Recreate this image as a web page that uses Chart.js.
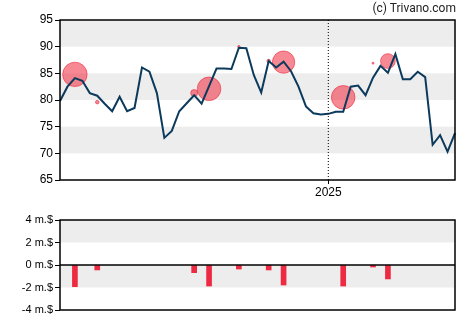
<!DOCTYPE html>
<html>
<head>
<meta charset="utf-8">
<script src="https://cdn.jsdelivr.net/npm/chart.js@4"></script>
<style>
    body { margin: 0; background: #fff; }
    #wrap { position: relative; width: 470px; height: 325px; font-family: "Liberation Sans", Arial, sans-serif; }
    #price-box { position: absolute; left: 0; top: 0; width: 470px; height: 200px; }
    #trade-box { position: absolute; left: 0; top: 200px; width: 470px; height: 125px; }
    #credit { position: absolute; right: 14px; top: 1px; font-size: 12px; color: #222; font-family: Roboto, sans-serif; }
</style>
</head>
<body>
<div id="wrap">
    <div id="price-box"><canvas id="price-chart"></canvas></div>
    <div id="trade-box"><canvas id="trade-chart"></canvas></div>
    <div id="credit">(c) Trivano.com</div>
</div>
<script>
// weekly closing prices
const closes = [
    79.8, 82.5, 84.1, 83.6, 81.3, 80.8, 79.3, 77.9, 80.6, 77.9,
    78.5, 86.1, 85.3, 81.3, 72.9, 74.2, 77.9, 79.4, 80.9, 79.3,
    82.6, 85.9, 85.9, 85.8, 89.8, 89.7, 84.7, 81.4, 87.3, 86.1,
    87.2, 85.4, 82.5, 78.8, 77.5, 77.3, 77.4, 77.8, 77.8, 82.5,
    82.7, 80.9, 84.2, 86.4, 85.1, 88.6, 83.9, 83.9, 85.3, 84.3,
    71.6, 73.4, 70.3, 73.8
];

// insider trades: week index, price paid, amount in million $
const tradeWeeks = [2, 5, 18, 20, 24, 28, 30, 38, 42, 44];
const tradePrices = [84.8, 79.6, 81.3, 82.1, 90.0, 87.3, 87.1, 80.5, 86.9, 87.3];
const tradeAmounts = [-1.93, -0.44, -0.68, -1.87, -0.36, -0.44, -1.78, -1.87, -0.18, -1.24];

const yearWeek = 36;
const yearLabel = '2025';
const priceTicks = { min: 65, max: 95, step: 5 };
const tradeTicks = { min: -4, max: 4, step: 2 };

const weeks = [];
const start = new Date(Date.UTC(2024, 3, 26));
for (let i = 0; i < closes.length; i++) {
    const d = new Date(start.getTime() + i * 7 * 86400000);
    weeks.push(d.toISOString().slice(0, 10));
}

const tradeBars = weeks.map(() => null);
tradeWeeks.forEach((w, i) => { tradeBars[w] = tradeAmounts[i]; });

const bands = {
    id: 'bands',
    beforeDatasetsDraw(chart, args, opts) {
        const { ctx, chartArea } = chart;
        const y = chart.scales.y;
        ctx.save();
        ctx.fillStyle = '#ededed';
        opts.ranges.forEach(([a, b]) => {
            const top = y.getPixelForValue(b);
            const bottom = y.getPixelForValue(a);
            ctx.fillRect(chartArea.left, top, chartArea.right - chartArea.left, bottom - top);
        });
        ctx.restore();
    }
};

const frame = {
    id: 'frame',
    afterDatasetsDraw(chart, args, opts) {
        const { ctx, chartArea } = chart;
        ctx.save();
        ctx.strokeStyle = '#000';
        ctx.lineWidth = 1.5;
        if (opts.yearLine) {
            const x = chart.scales.x.getPixelForValue(yearWeek);
            ctx.setLineDash([1, 2]);
            ctx.lineWidth = 1;
            ctx.beginPath();
            ctx.moveTo(x, chartArea.top);
            ctx.lineTo(x, chartArea.bottom);
            ctx.stroke();
            ctx.setLineDash([]);
            ctx.lineWidth = 1.5;
        }
        if (opts.zeroLine) {
            const y0 = chart.scales.y.getPixelForValue(0);
            ctx.beginPath();
            ctx.moveTo(chartArea.left, y0);
            ctx.lineTo(chartArea.right, y0);
            ctx.stroke();
        }
        ctx.strokeRect(chartArea.left, chartArea.top, chartArea.right - chartArea.left, chartArea.bottom - chartArea.top);
        ctx.restore();
    }
};

const tickFont = { family: '"Liberation Sans", Arial, sans-serif', size: 12 };

new Chart(document.getElementById('price-chart'), {
    type: 'line',
    data: {
        labels: weeks,
        datasets: [{
            type: 'line',
            data: closes,
            borderColor: '#0c3a5c',
            borderWidth: 2,
            pointRadius: 0,
            tension: 0,
            order: 1
        }, {
            type: 'bubble',
            data: tradeWeeks.map((w, i) => ({
                x: weeks[w],
                y: tradePrices[i],
                r: Math.max(1, 7 * Math.abs(tradeAmounts[i]) - 1.3)
            })),
            backgroundColor: 'rgba(238, 40, 60, 0.55)',
            borderColor: 'rgba(238, 40, 60, 0.6)',
            borderWidth: 1,
            order: 2
        }]
    },
    options: {
        responsive: true,
        maintainAspectRatio: false,
        animation: false,
        layout: { padding: { top: 20, right: 15, left: 0, bottom: 0 } },
        scales: {
            x: {
                type: 'category',
                offset: false,
                afterFit(scale) { scale.height = 20; },
                border: { display: false },
                grid: { drawOnChartArea: false, drawTicks: true, tickLength: 4, color: '#000' },
                ticks: {
                    autoSkip: false,
                    maxRotation: 0,
                    padding: 1,
                    color: '#000',
                    font: tickFont,
                    callback: (v, i) => i === yearWeek ? yearLabel : null
                }
            },
            y: {
                min: priceTicks.min,
                max: priceTicks.max,
                afterFit(scale) { scale.width = 60; },
                border: { display: false },
                grid: { drawOnChartArea: false, drawTicks: true, tickLength: 5, color: '#000' },
                ticks: { stepSize: priceTicks.step, padding: 2, color: '#000', font: tickFont }
            }
        },
        plugins: {
            legend: { display: false },
            tooltip: { enabled: false },
            bands: { ranges: [[70, 75], [80, 85], [90, 95]] },
            frame: { yearLine: true }
        }
    },
    plugins: [bands, frame]
});

new Chart(document.getElementById('trade-chart'), {
    type: 'bar',
    data: {
        labels: weeks,
        datasets: [{
            data: tradeBars,
            backgroundColor: '#ee2a42',
            barThickness: 5
        }]
    },
    options: {
        responsive: true,
        maintainAspectRatio: false,
        animation: false,
        layout: { padding: { top: 20, right: 15, left: 0, bottom: 15 } },
        scales: {
            x: { display: false, offset: false },
            y: {
                min: tradeTicks.min,
                max: tradeTicks.max,
                afterFit(scale) { scale.width = 60; },
                border: { display: false },
                grid: { drawOnChartArea: false, drawTicks: true, tickLength: 5, color: '#000' },
                ticks: {
                    stepSize: tradeTicks.step,
                    padding: 2,
                    color: '#000',
                    font: { family: '"Liberation Sans", Arial, sans-serif', size: 11 },
                    callback: v => v + ' m.$'
                }
            }
        },
        plugins: {
            legend: { display: false },
            tooltip: { enabled: false },
            bands: { ranges: [[-2, 0], [2, 4]] },
            frame: { zeroLine: true }
        }
    },
    plugins: [bands, frame]
});
</script>
</body>
</html>
